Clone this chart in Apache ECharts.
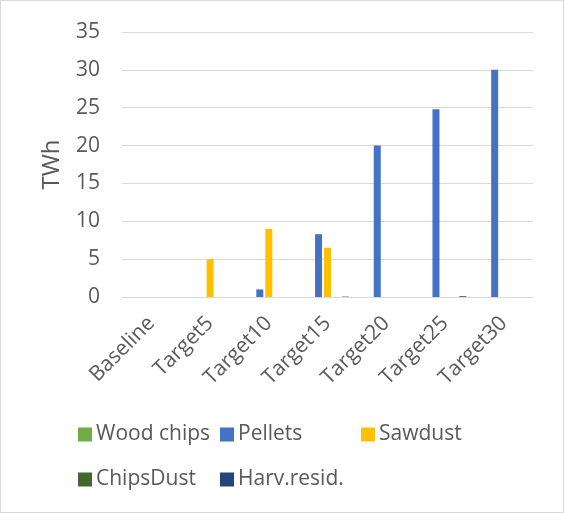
<!DOCTYPE html>
<html>
<head>
<meta charset="utf-8">
<script src="https://cdn.jsdelivr.net/npm/echarts@6/dist/echarts.min.js"></script>
<style>
  html, body { margin: 0; padding: 0; background: #fff; }
  #chart { width: 564px; height: 513px; box-sizing: border-box; border: 1px solid #d9d9d9; margin: 0; }
</style>
</head>
<body>
<div id="chart"></div>
<script>
// Scenario categories along the x axis
const categories = ['Baseline', 'Target5', 'Target10', 'Target15', 'Target20', 'Target25', 'Target30'];

// Energy by fuel type, TWh
const woodChips = [0, 0, 0, 0, 0, 0, 0];
const pellets   = [0, 0, 1, 8.3, 20, 24.8, 30];
const sawdust   = [0, 5, 9, 6.5, 0, 0, 0];
const chipsDust = [0, 0, 0, 0, 0, 0, 0];
const harvResid = [0, 0, 0, 0.05, 0, 0.1, 0];

const yTicks = { min: 0, max: 35, interval: 5 };

const seriesDefs = [
  { name: 'Wood chips', data: woodChips, color: '#70AD47' },
  { name: 'Pellets', data: pellets, color: '#4472C4' },
  { name: 'Sawdust', data: sawdust, color: '#FFC000' },
  { name: 'ChipsDust', data: chipsDust, color: '#43682B' },
  { name: 'Harv.resid.', data: harvResid, color: '#264478' }
];

const FONT = 'Open Sans';
const TEXT = '#595959';

// Legend laid out in a fixed grid of columns, two rows
const legendPos = [
  { left: 77, top: 423 },
  { left: 219, top: 423 },
  { left: 360, top: 423 },
  { left: 77, top: 468 },
  { left: 219, top: 468 }
];

const chart = echarts.init(document.getElementById('chart'), null, { renderer: 'canvas' });

chart.setOption({
  animation: false,
  backgroundColor: '#fff',
  grid: { left: 121, right: 30, top: 31, bottom: 215, containLabel: false },
  legend: seriesDefs.map((s, i) => ({
    data: [s.name],
    left: legendPos[i].left,
    top: legendPos[i].top,
    icon: 'rect',
    itemWidth: 14,
    itemHeight: 14,
    itemGap: 0,
    padding: 0,
    textStyle: { color: TEXT, fontFamily: FONT, fontSize: 21, padding: [0, 0, 0, -1] }
  })),
  xAxis: {
    type: 'category',
    data: categories,
    axisLine: { show: true, lineStyle: { color: '#d9d9d9', width: 1 } },
    axisTick: { show: false },
    axisLabel: {
      rotate: 45,
      interval: 0,
      margin: 23,
      color: TEXT,
      fontFamily: FONT,
      fontSize: 21
    }
  },
  yAxis: {
    type: 'value',
    min: yTicks.min,
    max: yTicks.max,
    interval: yTicks.interval,
    name: 'TWh',
    nameLocation: 'middle',
    nameGap: 58,
    nameTextStyle: { color: TEXT, fontFamily: FONT, fontSize: 24 },
    axisLine: { show: false },
    axisTick: { show: false },
    axisLabel: { color: TEXT, fontFamily: FONT, fontSize: 21, margin: 22 },
    splitLine: { lineStyle: { color: '#d9d9d9', width: 1 } }
  },
  series: seriesDefs.map(s => ({
    name: s.name,
    type: 'bar',
    data: s.data,
    barWidth: 7,
    barGap: '28%',
    barCategoryGap: '27%',
    itemStyle: { color: s.color }
  }))
});
</script>
</body>
</html>
